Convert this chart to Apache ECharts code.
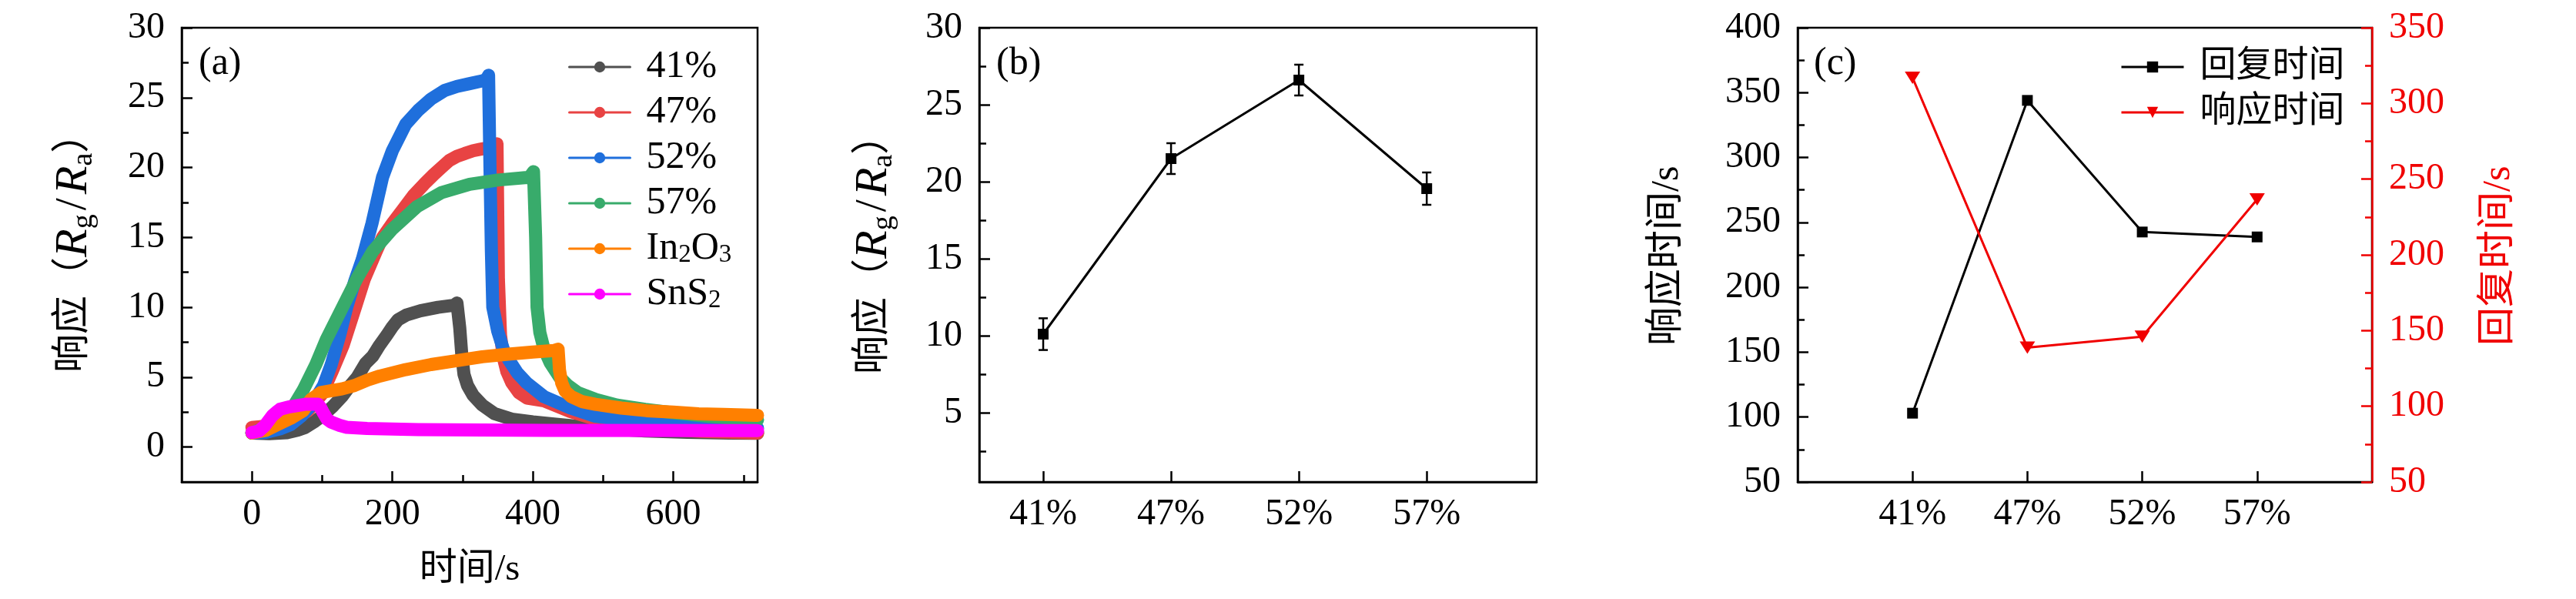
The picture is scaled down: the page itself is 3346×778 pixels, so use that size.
<!DOCTYPE html>
<html>
<head>
<meta charset="utf-8">
<script src="https://cdn.jsdelivr.net/npm/echarts@6/dist/echarts.min.js"></script>
<style>html,body{margin:0;padding:0;background:#fff}#chart{width:3346px;height:778px}</style>
</head>
<body>
<div id="chart"></div>
<script>
// ---------- Panel (a): response vs time ----------
const t41 = [0, 25, 50, 65, 76, 90, 102, 115, 128, 140, 150, 162, 172, 182, 192, 200, 208, 220, 240, 265, 288, 292, 296, 299, 302, 307, 315, 328, 345, 370, 400, 430, 470, 510, 560, 620, 680, 720];
const v41 = [1.0, 0.95, 1.02, 1.2, 1.4, 1.85, 2.3, 2.9, 3.6, 4.4, 5.0, 6.0, 6.5, 7.3, 8.0, 8.6, 9.1, 9.45, 9.75, 10.0, 10.15, 10.3, 8.5, 6.5, 5.2, 4.4, 3.7, 3.0, 2.4, 2.0, 1.8, 1.65, 1.45, 1.3, 1.15, 1.05, 1.0, 0.98];

const t47 = [0, 20, 40, 60, 80, 100, 115, 130, 148, 160, 177, 186, 200, 215, 230, 245, 259, 270, 281, 292, 303, 315, 325, 336, 345, 349, 351, 354, 358, 363, 370, 380, 392, 416, 453, 489, 530, 580, 640, 720];
const v47 = [1.4, 1.5, 1.6, 2.0, 2.6, 3.8, 5.5, 7.3, 10.1, 12.0, 14.0, 15.0, 16.0, 17.0, 18.0, 18.8, 19.5, 20.0, 20.5, 20.8, 21.0, 21.2, 21.3, 21.4, 21.5, 21.7, 12.0, 8.0, 6.4, 5.4, 4.6, 3.9, 3.5, 3.3, 2.55, 2.0, 1.6, 1.3, 1.12, 1.0];

const t52 = [0, 20, 40, 55, 70, 85, 102, 113, 125, 135, 146, 157, 171, 186, 200, 219, 237, 255, 274, 292, 310, 328, 334, 337, 339, 341, 343, 350, 358, 365, 378, 391, 416, 453, 489, 544, 600, 660, 720];
const v52 = [1.0, 1.05, 1.3, 1.6, 2.2, 3.0, 4.4, 5.9, 8.0, 10.0, 11.8, 13.4, 16.0, 19.3, 21.2, 23.1, 24.1, 24.9, 25.5, 25.8, 26.0, 26.2, 26.3, 26.6, 20.0, 14.0, 10.0, 8.3, 7.0, 6.3, 5.3, 4.6, 3.6, 2.8, 2.2, 1.85, 1.6, 1.45, 1.35];

const t57 = [0, 20, 40, 55, 62, 73, 91, 106, 130, 150, 172, 200, 235, 270, 310, 350, 395, 401, 404, 406, 410, 416, 425, 438, 450, 464, 490, 520, 560, 600, 650, 720];
const v57 = [1.0, 1.4, 2.0, 2.7, 3.15, 4.07, 5.9, 7.7, 10.1, 12.1, 14.0, 15.6, 17.2, 18.2, 18.8, 19.1, 19.3, 19.7, 15.0, 10.0, 8.2, 7.0, 6.0, 5.0, 4.4, 3.9, 3.4, 3.0, 2.7, 2.45, 2.2, 1.95];

const tIn = [0, 20, 36, 55, 73, 84, 98, 115, 128, 146, 165, 182, 219, 255, 292, 328, 365, 400, 430, 436, 438, 441, 446, 455, 470, 489, 526, 562, 600, 636, 672, 720];
const vIn = [1.0, 1.2, 1.6, 2.05, 2.6, 3.4, 3.9, 4.05, 4.16, 4.4, 4.8, 5.08, 5.54, 5.9, 6.18, 6.46, 6.64, 6.8, 6.9, 7.0, 5.5, 4.6, 4.0, 3.6, 3.25, 3.06, 2.79, 2.6, 2.5, 2.38, 2.33, 2.27];

const tSn = [0, 10, 18, 24, 29, 35, 40, 54, 76, 94, 98, 102, 107, 113, 125, 135, 164, 237, 420, 720];
const vSn = [1.04, 1.15, 1.5, 1.9, 2.24, 2.5, 2.7, 2.88, 3.06, 3.06, 2.8, 2.42, 2.0, 1.78, 1.55, 1.41, 1.33, 1.24, 1.19, 1.18];

const namesA = ['41%', '47%', '52%', '57%', 'In2O3', 'SnS2'];
const colorsA = ['#505050', '#e84343', '#1f6fdc', '#38ab6b', '#ff8000', '#ff00ff'];
const timesA = [t41, t47, t52, t57, tIn, tSn];
const valuesA = [v41, v47, v52, v57, vIn, vSn];

const xTicksA = [0, 200, 400, 600];
const xMinorA = [100, 300, 500, 700];
const yTicksA = [0, 5, 10, 15, 20, 25, 30];
const yMinorA = [2.5, 7.5, 12.5, 17.5, 22.5, 27.5];

// ---------- Panel (b): response vs humidity ----------
const catsRH = ['41%', '47%', '52%', '57%'];
const respB = [10.1, 21.5, 26.6, 19.55];
const errB = [1.03, 1.0, 1.0, 1.05];
const yTicksB = [5, 10, 15, 20, 25, 30];
const yMinorB = [2.5, 7.5, 12.5, 17.5, 22.5, 27.5];

// ---------- Panel (c): times ----------
const recoveryC = [103, 344, 242.6, 238.8];   // black, left axis
const responseC = [317, 138.7, 146, 236.6];   // red, right axis
const yTicksCL = [50, 100, 150, 200, 250, 300, 350, 400];
const yMinorCL = [75, 125, 175, 225, 275, 325, 375];
const yTicksCR = [50, 100, 150, 200, 250, 300, 350];
const yMinorCR = [75, 125, 175, 225, 275, 325];
const catPos = [1, 2, 3, 4];

// ---------- helpers ----------
const FONT = "'Liberation Serif', 'Noto Sans CJK SC', serif";
const RED = '#f00000';
const zip = (a, b) => a.map((x, i) => [x, b[i]]);

function mainAxis(o) {
  const c = o.color || '#000';
  return {
    type: 'value', gridIndex: o.grid, min: o.min, max: o.max, position: o.position,
    axisLine: { show: true, onZero: false, lineStyle: { color: c, width: 2.5 } },
    axisTick: { show: true, inside: true, length: 14, customValues: o.ticks, lineStyle: { color: c, width: 2.5 } },
    axisLabel: { show: true, customValues: o.ticks, margin: o.margin, color: c, fontSize: 48, fontFamily: FONT,
      formatter: o.formatter || (v => String(v)) },
    splitLine: { show: false },
    name: o.name || '', nameLocation: 'middle', nameGap: o.nameGap || 0,
    nameMoveOverlap: false,
    nameTextStyle: { color: c, fontSize: 49, fontFamily: FONT }
  };
}
function minorAxis(grid, min, max, ticks, position, color) {
  return {
    type: 'value', gridIndex: grid, min: min, max: max, position: position,
    axisLine: { show: false, onZero: false },
    axisTick: { show: true, inside: true, length: 9, customValues: ticks, lineStyle: { color: color || '#000', width: 2.5 } },
    axisLabel: { show: false }, splitLine: { show: false }
  };
}

const ratioText = '响应（{i|R}{s|g}{sl|/}{i|R}{s|a}）';
const ratioRich = {
  i: { fontStyle: 'italic', fontSize: 60, fontFamily: FONT, lineHeight: 64 },
  sl: { fontSize: 58, fontFamily: FONT, lineHeight: 64, padding: [0, 5, 0, 5] },
  s: { fontSize: 38, fontFamily: FONT, verticalAlign: 'bottom', lineHeight: 26 }
};
// vertical title anchored at its bottom start point, reading bottom-to-top
function vTitle(x, yStart, text, color, rich) {
  const style = { text: text, fill: color, font: '50px ' + FONT, align: 'left', verticalAlign: 'middle' };
  if (rich) { style.rich = rich; style.lineHeight = 64; }
  return { type: 'text', x: x, y: yStart, rotation: Math.PI / 2, style: style };
}

function legendFmt(n) {
  if (n === 'In2O3') return 'In{s|2}O{s|3}';
  if (n === 'SnS2') return 'SnS{s|2}';
  return n;
}

const gridBase = { show: true, borderColor: '#000', borderWidth: 2.5, backgroundColor: 'transparent', outerBoundsMode: 'none', containLabel: false };

const seriesA = namesA.map((n, i) => ({
  type: 'line', name: n, xAxisIndex: 0, yAxisIndex: 0,
  data: zip(timesA[i], valuesA[i]),
  showSymbol: false, symbol: 'circle', symbolSize: 14,
  lineStyle: { width: 17, color: colorsA[i], cap: 'round', join: 'round' },
  itemStyle: { color: colorsA[i] },
  clip: true, z: 2 + i
}));

const option = {
  animation: false,
  backgroundColor: '#fff',
  grid: [
    Object.assign({ left: 236, top: 36, width: 748, height: 590 }, gridBase),
    Object.assign({ left: 1272, top: 36, width: 724, height: 590 }, gridBase),
    Object.assign({ left: 2335, top: 36, width: 746, height: 590 }, gridBase)
  ],
  xAxis: [
    mainAxis({ grid: 0, min: -100, max: 720, position: 'bottom', ticks: xTicksA, margin: 18,
      name: '时间/s', nameGap: 90 }),
    minorAxis(0, -100, 720, xMinorA, 'bottom'),
    mainAxis({ grid: 1, min: 0.5, max: 4.86, position: 'bottom', ticks: catPos, margin: 18,
      formatter: v => catsRH[v - 1] }),
    mainAxis({ grid: 2, min: 0, max: 5, position: 'bottom', ticks: catPos, margin: 18,
      formatter: v => catsRH[v - 1] })
  ],
  yAxis: [
    mainAxis({ grid: 0, min: -2.5, max: 30, position: 'left', ticks: yTicksA, margin: 22 }),
    minorAxis(0, -2.5, 30, yMinorA, 'left'),
    mainAxis({ grid: 1, min: 0.5, max: 30, position: 'left', ticks: yTicksB, margin: 22 }),
    minorAxis(1, 0.5, 30, yMinorB, 'left'),
    mainAxis({ grid: 2, min: 50, max: 400, position: 'left', ticks: yTicksCL, margin: 22 }),
    minorAxis(2, 50, 400, yMinorCL, 'left'),
    mainAxis({ grid: 2, min: 50, max: 350, position: 'right', ticks: yTicksCR, margin: 22, color: RED }),
    minorAxis(2, 50, 350, yMinorCR, 'right', RED)
  ],
  legend: [
    {
      data: namesA, orient: 'vertical', left: 733, top: 57,
      itemWidth: 79, itemHeight: 18, itemGap: 9, selectedMode: false,
      lineStyle: { width: 3 },
      formatter: legendFmt,
      textStyle: { fontSize: 50, fontFamily: FONT, color: '#000', lineHeight: 50, padding: [0, 0, 0, 16],
        rich: { s: { fontSize: 33, fontFamily: FONT, verticalAlign: 'bottom', lineHeight: 22 } } }
    },
    {
      data: ['回复时间', '响应时间'], orient: 'vertical', left: 2749, top: 57,
      itemWidth: 81, itemHeight: 18, itemGap: 9, selectedMode: false,
      lineStyle: { width: 3 },
      textStyle: { fontSize: 47, fontFamily: FONT, color: '#000', lineHeight: 50, padding: [0, 0, 0, 16] }
    }
  ],
  graphic: [
    { type: 'text', left: 258, top: 58, style: { text: '(a)', font: '50px ' + FONT, fill: '#000' } },
    { type: 'text', left: 1294, top: 58, style: { text: '(b)', font: '50px ' + FONT, fill: '#000' } },
    { type: 'text', left: 2356, top: 58, style: { text: '(c)', font: '50px ' + FONT, fill: '#000' } },
    vTitle(96, 484, ratioText, '#000', ratioRich),
    vTitle(1135, 486, ratioText, '#000', ratioRich),
    vTitle(2166, 449, '响应时间/s', '#000'),
    vTitle(3246, 449, '回复时间/s', RED)
  ],
  series: seriesA.concat([
    {
      type: 'custom', xAxisIndex: 2, yAxisIndex: 2, clip: false, z: 3,
      data: catPos.map((x, i) => [x, respB[i] - errB[i], respB[i] + errB[i]]),
      encode: { x: 0, y: [1, 2] },
      renderItem: (params, api) => {
        const x = api.value(0);
        const p1 = api.coord([x, api.value(1)]);
        const p2 = api.coord([x, api.value(2)]);
        const w = 6;
        const style = { stroke: '#000', lineWidth: 2.5, fill: null };
        return { type: 'group', children: [
          { type: 'line', shape: { x1: p1[0], y1: p1[1], x2: p2[0], y2: p2[1] }, style: style },
          { type: 'line', shape: { x1: p1[0] - w, y1: p1[1], x2: p1[0] + w, y2: p1[1] }, style: style },
          { type: 'line', shape: { x1: p2[0] - w, y1: p2[1], x2: p2[0] + w, y2: p2[1] }, style: style }
        ] };
      }
    },
    {
      type: 'line', name: 'resp', xAxisIndex: 2, yAxisIndex: 2, z: 4,
      data: zip(catPos, respB),
      symbol: 'rect', symbolSize: 14, showSymbol: true,
      lineStyle: { width: 3, color: '#000' }, itemStyle: { color: '#000' }
    },
    {
      type: 'line', name: '回复时间', xAxisIndex: 3, yAxisIndex: 4, z: 4,
      data: zip(catPos, recoveryC),
      symbol: 'rect', symbolSize: 14, showSymbol: true,
      lineStyle: { width: 3, color: '#000' }, itemStyle: { color: '#000' }
    },
    {
      type: 'line', name: '响应时间', xAxisIndex: 3, yAxisIndex: 6, z: 4,
      data: zip(catPos, responseC),
      symbol: 'triangle', symbolRotate: 180, symbolSize: [20, 16], showSymbol: true,
      lineStyle: { width: 3, color: RED }, itemStyle: { color: RED }
    }
  ])
};

const chart = echarts.init(document.getElementById('chart'), null, { renderer: 'canvas' });
chart.setOption(option);
</script>
</body>
</html>
